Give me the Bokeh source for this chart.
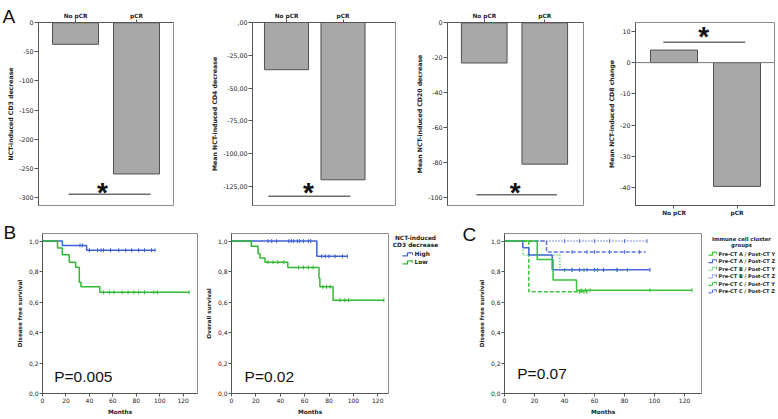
import math
from bokeh.plotting import figure
from bokeh.models import (Range1d, FixedTicker, Label, Span, LinearAxis,
                          CustomJSTickFormatter)
from bokeh.core.properties import value
from bokeh.layouts import row, column
from bokeh.embed import file_html
from bokeh.resources import INLINE

# ---------------- data: panel A (bar charts) ----------------
groups = ["No pCR", "pCR"]
cd3_decrease = [-37, -260]
cd4_decrease = [-36, -120]
cd20_decrease = [-23, -81]
cd8_change = [4, -39.5]

cd3_ticks = [0, -50, -100, -150, -200, -250, -300]
cd3_tick_labels = ["0", "-50", "-100", "-150", "-200", "-250", "-300"]
cd4_ticks = [0, -25, -50, -75, -100, -125]
cd4_tick_labels = [",00", "-25,00", "-50,00", "-75,00", "-100,00", "-125,00"]
cd20_ticks = [0, -20, -40, -60, -80, -100]
cd20_tick_labels = ["0", "-20", "-40", "-60", "-80", "-100"]
cd8_ticks = [10, 0, -10, -20, -30, -40]
cd8_tick_labels = ["10", "0", "-10", "-20", "-30", "-40"]

# significance bracket: (x from, x to, y) and star position (x, y)
cd3_bracket = (-0.115, 1.23, -295)
cd3_star = (0.44, -278)
cd4_bracket = (-0.32, 1.13, -132.5)
cd4_star = (0.39, -123.5)
cd20_bracket = (-0.13, 1.2, -98.5)
cd20_star = (0.51, -92.6)
cd8_bracket = (-0.17, 1.13, 6.5)
cd8_star = (0.47, 10.8)

# ---------------- data: panels B and C (Kaplan-Meier) ----------------
months_ticks = [0, 20, 40, 60, 80, 100, 120]
months_tick_labels = ["0", "20", "40", "60", "80", "100", "120"]
surv_ticks = [0.0, 0.2, 0.4, 0.6, 0.8, 1.0]
surv_tick_labels = ["0,0", "0,2", "0,4", "0,6", "0,8", "1,0"]

# B left: disease free survival by CD3 decrease
dfs_high_t = [0, 16.9, 37.6]
dfs_high_s = [1.0, 0.972, 0.940]
dfs_high_end = 96
dfs_high_cens = [32, 34, 40, 47, 50, 52, 58, 65, 71, 76, 82, 87, 93, 96]
dfs_low_t = [0, 12.8, 16.9, 22.8, 28.3, 31.4, 32.8, 48.9]
dfs_low_s = [1.0, 0.955, 0.911, 0.862, 0.829, 0.730, 0.700, 0.664]
dfs_low_end = 125
dfs_low_cens = [52, 57, 61, 68, 73, 78, 82, 87, 95, 98, 125]

# B right: overall survival by CD3 decrease
os_high_t = [0, 70]
os_high_s = [1.0, 0.90]
os_high_end = 95
os_high_cens = [30, 33, 37, 47, 49, 51, 54, 56, 59, 63, 65, 74, 77, 80, 85, 91, 95]
os_low_t = [0, 16.2, 21.8, 23.4, 27.5, 46.2, 71.8, 72.5, 83.3]
os_low_s = [1.0, 0.966, 0.917, 0.890, 0.862, 0.827, 0.757, 0.700, 0.612]
os_low_end = 125
os_low_cens = [30, 34, 38, 43, 55, 59, 63, 67, 75, 78, 81, 89, 93, 96, 125]
cd3_groups = ["High", "Low"]
cd3_legend_title = ["NCT-induced", "CD3 decrease"]

# C: disease free survival by immune cell cluster groups
cluster_names = ["Pre-CT A / Post-CT Y", "Pre-CT A / Post-CT Z",
                 "Pre-CT B / Post-CT Y", "Pre-CT B / Post-CT Z",
                 "Pre-CT C / Post-CT Y", "Pre-CT C / Post-CT Z"]
cluster_legend_title = ["Immune cell cluster", "groups"]
ay_t = [0, 21.8, 32.4, 48.0]
ay_s = [1.0, 0.880, 0.745, 0.677]
ay_end = 125
ay_cens = [51, 54, 57, 97, 125]
az_t = [0, 12.2, 16.2, 31.8]
az_s = [1.0, 0.957, 0.909, 0.812]
az_end = 97
az_cens = [45, 50, 55, 60, 66, 75, 97]
by_t = [0, 12.2, 36.9]
by_s = [1.0, 0.909, 0.810]
by_end = 82
by_cens = [40, 45, 50, 53, 62, 66, 75, 82]
bz_t = [0]
bz_s = [1.0]
bz_end = 95
bz_cens = [40, 50, 60, 70, 80, 95]
cy_t = [0, 16.2]
cy_s = [1.0, 0.667]
cy_end = 55
cy_cens = [50, 53, 55]
cz_t = [0, 28.0]
cz_s = [1.0, 0.929]
cz_end = 94
cz_cens = [45, 55, 60, 70, 80, 90]

# p values
p_dfs = "P=0.005"
p_os = "P=0.02"
p_cluster = "P=0.07"

# ---------------- styling helpers ----------------
BLUE = "#3f5fd6"
GREEN = "#33b833"
C_BLUE = "#5a74e6"
C_GREEN = "#3cc23c"
BAR_FILL = "#a8a8a8"
BAR_LINE = "#505050"
AX = "#555555"
FONT = "DejaVu Sans"


def fmt(tick_values, tick_texts):
    return CustomJSTickFormatter(args=dict(tv=tick_values, tl=tick_texts), code="""
        for (let i = 0; i < tv.length; i++) {
            if (Math.abs(tv[i] - tick) < 1e-9) { return tl[i]; }
        }
        return "";
    """)


def base_fig(w, h, xr, yr, lb, rb, tb, bb):
    p = figure(width=w, height=h, x_range=Range1d(*xr), y_range=Range1d(*yr),
               output_backend="svg", toolbar_location=None,
               x_axis_location=None, y_axis_location=None,
               min_border_left=lb, min_border_right=rb,
               min_border_top=tb, min_border_bottom=bb)
    p.xgrid.visible = False
    p.ygrid.visible = False
    p.outline_line_color = "#8c8c8c"
    p.outline_line_width = 1
    p.background_fill_color = "white"
    p.border_fill_color = "white"
    return p


def make_axis(ticks, labels, label="", tick_size="6.3px", label_size="6.2px",
              tick_out=4, bold_ticks=False, label_standoff=2):
    ax = LinearAxis(ticker=FixedTicker(ticks=ticks, minor_ticks=[]),
                    formatter=fmt(ticks, labels), axis_label=label)
    ax.major_tick_out = tick_out
    ax.major_tick_in = 0
    ax.minor_tick_out = 0
    ax.minor_tick_in = 0
    ax.axis_line_color = AX
    ax.major_tick_line_color = AX
    ax.major_label_text_font = FONT
    ax.major_label_text_font_size = tick_size
    ax.major_label_text_color = "#222222"
    ax.major_label_text_font_style = "bold" if bold_ticks else "normal"
    ax.major_label_standoff = 1
    ax.axis_label_text_font = FONT
    ax.axis_label_text_font_size = label_size
    ax.axis_label_text_font_style = "bold"
    ax.axis_label_text_color = "#222222"
    ax.axis_label_standoff = label_standoff
    return ax


def canvas_label(p, side, text, x, y, font, size):
    kw = dict(x=x, y=y, text=text, text_font=font, text_font_size=size,
              text_align="left", text_baseline="alphabetic", text_color="#111111")
    try:
        lab = Label(x_units="canvas", y_units="canvas", **kw)
    except Exception:
        lab = Label(x_units="screen", y_units="screen", **kw)
    p.add_layout(lab, side)


def bar_panel(w, h, xr, yr, lb, rb, tb, bb, values, ticks, tick_labels, ylabel,
              bar_width, bracket, star, cat_side="above", zero_line=False):
    p = base_fig(w, h, xr, yr, lb, rb, tb, bb)
    xs = list(range(len(groups)))
    if zero_line:
        p.add_layout(Span(location=0, dimension="width", line_color="#777777", line_width=1))
    p.vbar(x=xs, top=values, bottom=0, width=bar_width, fill_color=BAR_FILL,
           line_color=BAR_LINE, line_width=1)
    p.segment(x0=[bracket[0]], y0=[bracket[2]], x1=[bracket[1]], y1=[bracket[2]],
              line_color="#6e6e6e", line_width=1.5)
    p.add_layout(Label(x=star[0], y=star[1], text="*", text_align="center",
                       text_baseline="middle", text_font="Liberation Sans",
                       text_font_style="bold", text_font_size="28px",
                       text_color="#111111", y_offset=-8))
    p.add_layout(make_axis(ticks, tick_labels, ylabel), "left")
    cat = make_axis(xs, groups, "", tick_size="5.8px", tick_out=3, bold_ticks=True)
    p.add_layout(cat, cat_side)
    return p


def km(p, t, s, end, cens, color, dash="solid", width=1.5):
    xs = list(t) + [end]
    ys = list(s) + [s[-1]]
    p.step(xs, ys, mode="after", line_color=color, line_width=width, line_dash=dash)
    cy = []
    for c_ in cens:
        k = 0
        for i in range(len(t)):
            if t[i] <= c_:
                k = i
        cy.append(s[k])
    p.scatter(cens, cy, marker="dash", angle=math.pi / 2, size=4,
              line_color=color, line_width=1)


def km_panel(w, h, xr, lb, rb, tb, bb, ylabel):
    p = base_fig(w, h, xr, (0, 1.05), lb, rb, tb, bb)
    p.add_layout(make_axis(months_ticks, months_tick_labels, "Months",
                           tick_size="6px", label_size="5.8px", tick_out=3,
                           label_standoff=3), "below")
    p.add_layout(make_axis(surv_ticks, surv_tick_labels, ylabel,
                           tick_size="6px", label_size="5.7px", tick_out=3,
                           label_standoff=3), "left")
    return p


def pval(p, text, x, y):
    p.add_layout(Label(x=x, y=y, text=text, text_font="Liberation Sans",
                       text_font_size="15.5px", text_baseline="alphabetic",
                       text_align="left", text_color="#111111"))


def legend_fig(w, h, tb, bb, title, title_x, title_y, title_size, names, styles,
               icon_x0, icon_x1, row_y0, row_step, text_size):
    # pixel-based legend panel; its frame is aligned with the row (top tb, bottom bb),
    # and the y range is set so that y equals the canvas pixel row (downward).
    p = figure(width=w, height=h, x_range=Range1d(0, w), y_range=Range1d(h - bb, tb),
               output_backend="svg", toolbar_location=None, title_location=None,
               x_axis_location=None, y_axis_location=None,
               min_border_left=0, min_border_right=0, min_border_top=tb,
               min_border_bottom=bb)
    p.xgrid.visible = False
    p.ygrid.visible = False
    p.outline_line_color = None
    p.background_fill_color = "white"
    p.border_fill_color = "white"
    p.text(x=[title_x] * len(title), y=title_y, text=title, text_align="center",
           text_baseline="middle", text_font=value(FONT), text_font_style="bold",
           text_font_size=title_size, text_color="#222222")
    ys = [row_y0 + i * row_step for i in range(len(names))]
    xm = (icon_x0 + icon_x1) / 2
    for y, (color, dash) in zip(ys, styles):
        p.line([icon_x0, xm, xm, icon_x1], [y + 1.5, y + 1.5, y - 1.5, y - 1.5],
               line_color=color, line_dash=dash, line_width=1.2)
        p.line([icon_x1, icon_x1], [y - 1.5, y + 0.5], line_color=color, line_width=1)
    p.text(x=[icon_x1 + 2] * len(names), y=ys, text=names, text_align="left",
           text_baseline="middle", text_font=value(FONT), text_font_style="bold",
           text_font_size=text_size, text_color="#222222")
    return p


# ---------------- top row (canvas y 0..218) ----------------
H1 = 218
a1 = bar_panel(200, H1, (-0.607, 1.607), (-314.2, 0.5), 38, 27, 22, 12, cd3_decrease,
               cd3_ticks, cd3_tick_labels, "NCT-induced CD3 decrease", 0.754,
               cd3_bracket, cd3_star)
canvas_label(a1, "right", "A", 2, 16, "Liberation Sans", "19px")
a2 = bar_panel(200, H1, (-0.602, 1.929), (-139.6, 0), 52, 5, 22, 12, cd4_decrease,
               cd4_ticks, cd4_tick_labels, "Mean NCT-induced CD4 decrease", 0.78,
               cd4_bracket, cd4_star)
a3 = bar_panel(190, H1, (-0.607, 1.64), (-104.7, 0.2), 47, 7, 22, 12, cd20_decrease,
               cd20_ticks, cd20_tick_labels, "Mean NCT-induced CD20 decrease", 0.754,
               cd20_bracket, cd20_star)
a4 = bar_panel(186, H1, (-0.611, 1.595), (-45.6, 12.8), 45, 2, 22, 12, cd8_change,
               cd8_ticks, cd8_tick_labels, "Mean NCT-induced CD8 change", 0.746,
               cd8_bracket, cd8_star, cat_side="below", zero_line=True)

# ---------------- bottom row (canvas y 218..417) ----------------
H2 = 199
TB2, BB2 = 15, 23
b1 = km_panel(198, H2, (0, 132.2), 38, 1, TB2, BB2, "Disease free survival")
km(b1, dfs_high_t, dfs_high_s, dfs_high_end, dfs_high_cens, BLUE)
km(b1, dfs_low_t, dfs_low_s, dfs_low_end, dfs_low_cens, GREEN)
pval(b1, p_dfs, 10, 0.111)
canvas_label(b1, "left", "B", 3, 14, "Liberation Sans", "19px")

b2 = km_panel(192, H2, (0, 128.8), 33, 2, TB2, BB2, "Overall survival")
km(b2, os_high_t, os_high_s, os_high_end, os_high_cens, BLUE)
km(b2, os_low_t, os_low_s, os_low_end, os_low_cens, GREEN)
pval(b2, p_os, 10.7, 0.111)

leg_b = legend_fig(70, H2, TB2, BB2, cd3_legend_title, 25, [19.3, 26.5], "5.9px",
                   cd3_groups, [(BLUE, "solid"), (GREEN, "solid")], 12, 22, 36, 8,
                   "5.9px")

c = km_panel(242, H2, (0, 131.3), 44, 1, TB2, BB2, "Disease free survival")
km(c, bz_t, bz_s, bz_end, bz_cens, C_BLUE, "1 2")
km(c, cz_t, cz_s, cz_end, cz_cens, C_BLUE, "4 2")
km(c, by_t, by_s, by_end, by_cens, C_GREEN, "1 2")
km(c, cy_t, cy_s, cy_end, cy_cens, C_GREEN, "4 2")
km(c, az_t, az_s, az_end, az_cens, "#4a66e0")
km(c, ay_t, ay_s, ay_end, ay_cens, C_GREEN)
pval(c, p_cluster, 8.5, 0.131)
canvas_label(c, "left", "C", 2, 16, "Liberation Sans", "19px")

leg_c = legend_fig(74, H2, TB2, BB2, cluster_legend_title, 39, [20.3, 26.3], "5.3px",
                   cluster_names,
                   [(C_GREEN, "solid"), ("#4a66e0", "solid"), (C_GREEN, "1 1"),
                    (C_BLUE, "1 1"), (C_GREEN, "3 1"), (C_BLUE, "3 1")],
                   6, 14, 35.3, 7.6, "5px")

layout = column(row(a1, a2, a3, a4), row(b1, b2, leg_b, c, leg_c))
open("out.html", "w").write(file_html(layout, INLINE))
